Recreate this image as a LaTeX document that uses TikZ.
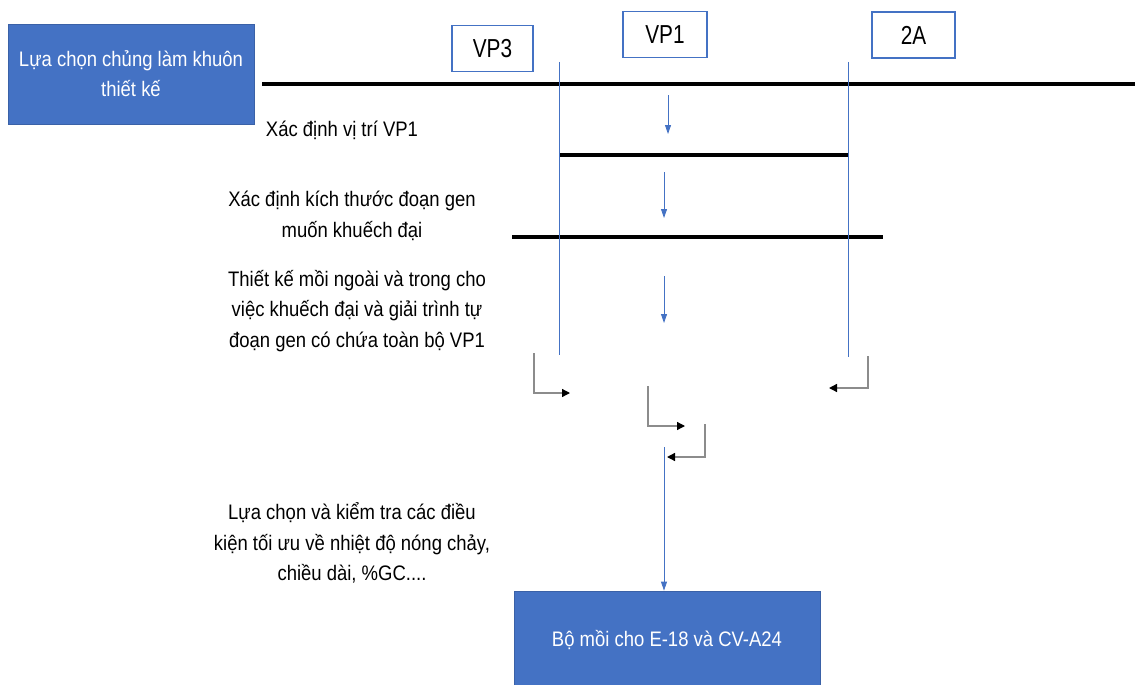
\documentclass[tikz,border=0pt]{standalone}
\usepackage{fontspec}
\setmainfont[FakeStretch=0.88]{Liberation Sans}
\newfontfamily\tagfont[FakeStretch=0.8]{Liberation Sans}
\usetikzlibrary{arrows.meta}
\definecolor{boxblue}{HTML}{4472C4}
\definecolor{linegray}{HTML}{8C8C8C}
\begin{document}
\begin{tikzpicture}[x=1pt,y=-1pt,
  bluebox/.style={fill=boxblue, draw=boxblue!85!black, line width=0.8pt, text=white, align=center, font=\fontsize{21}{30}\selectfont, inner sep=0pt},
  tag/.style={draw=boxblue, line width=1.2pt, fill=white, font=\tagfont\fontsize{26}{30}\selectfont, inner sep=0pt, minimum height=46pt},
  steplabel/.style={align=center, font=\fontsize{21}{30.5}\selectfont, inner sep=0pt},
  dna/.style={line width=4pt, black},
  guide/.style={boxblue, line width=1pt},
  flow/.style={boxblue, line width=0.8pt, -{Triangle[width=6pt,length=9pt]}},
  elbow/.style={linegray, line width=1.3pt, -{Triangle[width=8pt,length=8pt,fill=black,color=black]}},
]
\useasboundingbox (0,0) rectangle (1135,685);

% boxes
\node[bluebox, minimum width=246pt, minimum height=100pt] (strain) at (131,74) {Lựa chọn chủng làm khuôn\\thiết kế};
\node[bluebox, minimum width=306pt, minimum height=98pt] (primers) at (667,640) {Bộ mồi cho E-18 và CV-A24};

\node[tag, minimum width=81pt] (vp3) at (492.5,48.5) {VP3};
\node[tag, minimum width=84pt] (vp1) at (665,34.5) {VP1};
\node[tag, minimum width=83pt] (twoa) at (913.5,35) {2A};

% DNA lines
\coordinate (g1a) at (262,84);  \coordinate (g1b) at (1135,84);
\coordinate (g2a) at (559,155); \coordinate (g2b) at (848,155);
\coordinate (g3a) at (512,237); \coordinate (g3b) at (883,237);
\draw[dna] (g1a) -- (g1b);
\draw[dna] (g2a) -- (g2b);
\draw[dna] (g3a) -- (g3b);

% guide verticals
\coordinate (vlt) at (559,62);  \coordinate (vlb) at (559,355);
\coordinate (vrt) at (848,62);  \coordinate (vrb) at (848,357);
\draw[guide] (vlt) -- (vlb);
\draw[guide] (vrt) -- (vrb);

% step labels
\node[steplabel] (s1) at (342,130) {Xác định vị trí VP1};
\node[steplabel] (s2) at (352,216) {Xác định kích thước đoạn gen\\muốn khuếch đại};
\node[steplabel] (s3) at (357,311) {Thiết kế mồi ngoài và trong cho\\việc khuếch đại và giải trình tự\\đoạn gen có chứa toàn bộ VP1};
\node[steplabel] (s4) at (352,543) {Lựa chọn và kiểm tra các điều\\kiện tối ưu về nhiệt độ nóng chảy,\\chiều dài, \%GC....};

% blue flow arrows
\coordinate (a1s) at (668,95);  \coordinate (a1e) at (668,134);
\coordinate (a2s) at (664,172); \coordinate (a2e) at (664,218);
\coordinate (a3s) at (664,276); \coordinate (a3e) at (664,323);
\coordinate (a4s) at (664,447);
\draw[flow] (a1s) -- (a1e);
\draw[flow] (a2s) -- (a2e);
\draw[flow] (a3s) -- (a3e);
\draw[flow] (a4s) -- (a4s |- primers.north);

% elbow arrows
\coordinate (e1s) at (534,353); \coordinate (e1e) at (570,393);
\coordinate (e2s) at (868,356); \coordinate (e2e) at (829,388);
\coordinate (e3s) at (648,386); \coordinate (e3e) at (685,426);
\coordinate (e4s) at (705,424); \coordinate (e4e) at (667,457);
\draw[elbow] (e1s) |- (e1e);
\draw[elbow] (e2s) |- (e2e);
\draw[elbow] (e3s) |- (e3e);
\draw[elbow] (e4s) |- (e4e);
\end{tikzpicture}
\end{document}
